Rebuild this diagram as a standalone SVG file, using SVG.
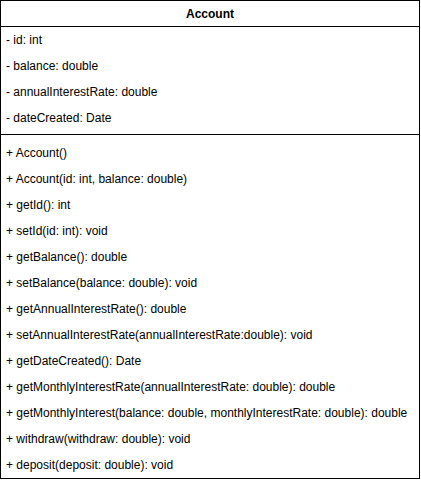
<svg xmlns="http://www.w3.org/2000/svg" width="421" height="480" viewBox="0 0 421 480">
<style>
.box{fill:#fff;stroke:#000;stroke-width:1}
.sep{stroke:#000;stroke-width:1}
text{font-family:"Liberation Sans",Arial,Helvetica,sans-serif;font-size:12px;fill:#000}
.title{font-weight:bold;font-size:12px;text-anchor:middle}
</style>
<rect width="421" height="480" fill="#fff"/>
<g id="Account">
<rect class="box" x="0.5" y="0.5" width="419" height="478"/>
<line class="sep" x1="0.5" y1="26.5" x2="419.5" y2="26.5"/>
<line class="sep" x1="0.5" y1="134.5" x2="419.5" y2="134.5"/>
<text class="title" x="210" y="18">Account</text>
<text x="6" y="44">- id: int</text>
<text x="6" y="70">- balance: double</text>
<text x="6" y="96">- annualInterestRate: double</text>
<text x="6" y="122">- dateCreated: Date</text>
<text x="6" y="157">+ Account()</text>
<text x="6" y="183">+ Account(id: int, balance: double)</text>
<text x="6" y="209">+ getId(): int</text>
<text x="6" y="235">+ setId(id: int): void</text>
<text x="6" y="261">+ getBalance(): double</text>
<text x="6" y="287">+ setBalance(balance: double): void</text>
<text x="6" y="313">+ getAnnualInterestRate(): double</text>
<text x="6" y="339">+ setAnnualInterestRate(annualInterestRate:double): void</text>
<text x="6" y="365">+ getDateCreated(): Date</text>
<text x="6" y="391">+ getMonthlyInterestRate(annualInterestRate: double): double</text>
<text x="6" y="417">+ getMonthlyInterest(balance: double, monthlyInterestRate: double): double</text>
<text x="6" y="443">+ withdraw(withdraw: double): void</text>
<text x="6" y="469">+ deposit(deposit: double): void</text>
</g>
<g id="connectors"></g>
</svg>
